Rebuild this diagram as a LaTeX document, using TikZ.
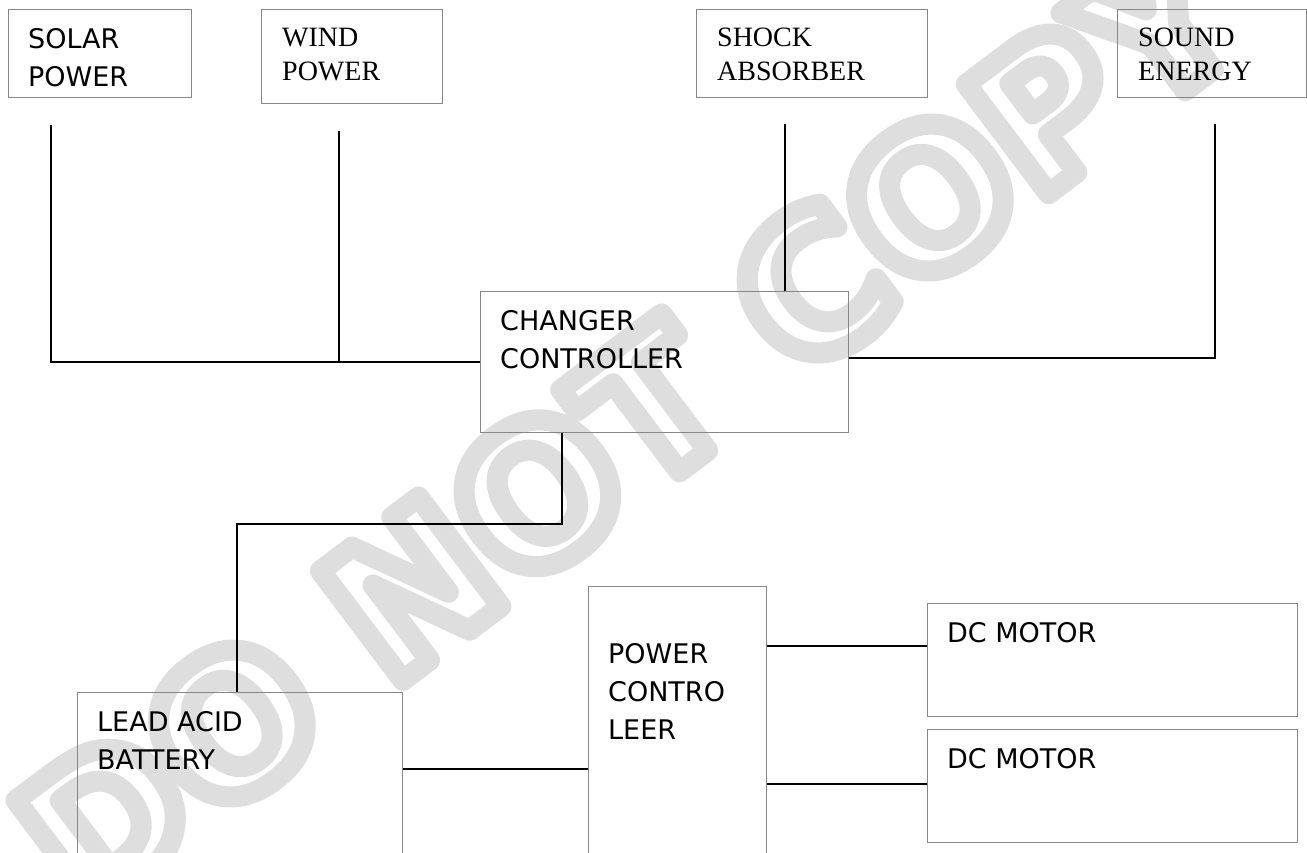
\documentclass[tikz,border=0pt]{standalone}
\usepackage{fontspec}
\newfontfamily\sansfnt{DejaVu Sans}
\newfontfamily\seriffnt{Liberation Serif}
\newfontfamily\wmfnt{DejaVu Sans Bold}
\usetikzlibrary{positioning, calc}
\definecolor{boxgray}{RGB}{135,135,135}
\definecolor{wmgray}{RGB}{222,222,222}

\begin{document}
\begin{tikzpicture}[x=1pt, y=-1pt,
		unitbox/.style={draw=boxgray, line width=1.4pt, anchor=north west, inner sep=0pt},
		sanslbl/.style={anchor=north west, inner sep=0pt, xshift=20pt, yshift=-19pt, align=left, font=\sansfnt\fontsize{27}{38}\selectfont},
		seriflbl/.style={anchor=north west, inner sep=0pt, xshift=21pt, yshift=-19pt, align=left, font=\seriffnt\fontsize{28}{34}\selectfont},
		wire/.style={line width=1.8pt, black},
		wmark/.style={rotate=37, text=wmgray, inner sep=0pt, font=\wmfnt\fontsize{188}{188}\selectfont}
		]
		
		\useasboundingbox (0,0) rectangle (1307,852);
		\clip (0,0) rectangle (1307,852);
		
		% Watermark (outlined letters)
		\node[wmark] (wm) at (628,425) {\special{pdf:literal direct 1 j 21 w 1 Tr}DO NOT COPY\special{pdf:literal direct 0 Tr}};
		
		% Sources
		\node[unitbox, minimum width=183pt, minimum height=88pt, label={[sanslbl]north west:SOLAR\\POWER}] (solar) at (8,9) {};
		\node[unitbox, minimum width=181pt, minimum height=94pt, label={[seriflbl]north west:WIND\\POWER}] (wind) at (261,9) {};
		\node[unitbox, minimum width=231pt, minimum height=88pt, label={[seriflbl]north west:SHOCK\\ABSORBER}] (shock) at (696,9) {};
		\node[unitbox, minimum width=189pt, minimum height=88pt, label={[seriflbl]north west:SOUND\\ENERGY}] (sound) at (1117,9) {};
		
		% Controller and storage
		\node[unitbox, minimum width=368pt, minimum height=141pt, label={[sanslbl]north west:CHANGER\\CONTROLLER}] (charger) at (480,291) {};
		\node[unitbox, minimum width=325pt, minimum height=228pt, label={[sanslbl]north west:LEAD ACID\\BATTERY}] (battery) at (77,692) {};
		\node[unitbox, minimum width=178pt, minimum height=334pt, label={[sanslbl, yshift=-38pt]north west:POWER\\CONTRO\\LEER}] (power) at (588,586) {};
		
		% Motors
		\node[unitbox, minimum width=370pt, minimum height=113pt, label={[sanslbl]north west:DC MOTOR}] (dc1) at (927,603) {};
		\node[unitbox, minimum width=370pt, minimum height=113pt, label={[sanslbl]north west:DC MOTOR}] (dc2) at (927,729) {};
		
		% Wire ends
		\coordinate (solar-tap) at (51,125);
		\coordinate (wind-tap) at (339,131);
		\coordinate (shock-tap) at (785,124);
		\coordinate (sound-tap) at (1215,124);
		\coordinate (chg-in) at ([yshift=4pt]charger.east);
		\coordinate (chg-out) at ([xshift=-103pt]charger.south);
		\coordinate (batt-bend) at (237,524);
		\coordinate (batt-out) at ([yshift=38pt]battery.east);
		\coordinate (dc1-in) at ([yshift=14pt]dc1.west);
		\coordinate (dc2-in) at ([yshift=2pt]dc2.west);
		
		% Wires
		\draw[wire] (solar-tap) |- (charger.west);
		\draw[wire] (wind-tap) -- (wind-tap |- charger.west);
		\draw[wire] (shock-tap) -- (shock-tap |- charger.north);
		\draw[wire] (sound-tap) |- (chg-in);
		\draw[wire] (chg-out) |- (batt-bend) -- (batt-bend |- battery.north);
		\draw[wire] (batt-out) -- (batt-out -| power.west);
		\draw[wire] (dc1-in) -- (dc1-in -| power.east);
		\draw[wire] (dc2-in) -- (dc2-in -| power.east);
		
	\end{tikzpicture}
\end{document}
